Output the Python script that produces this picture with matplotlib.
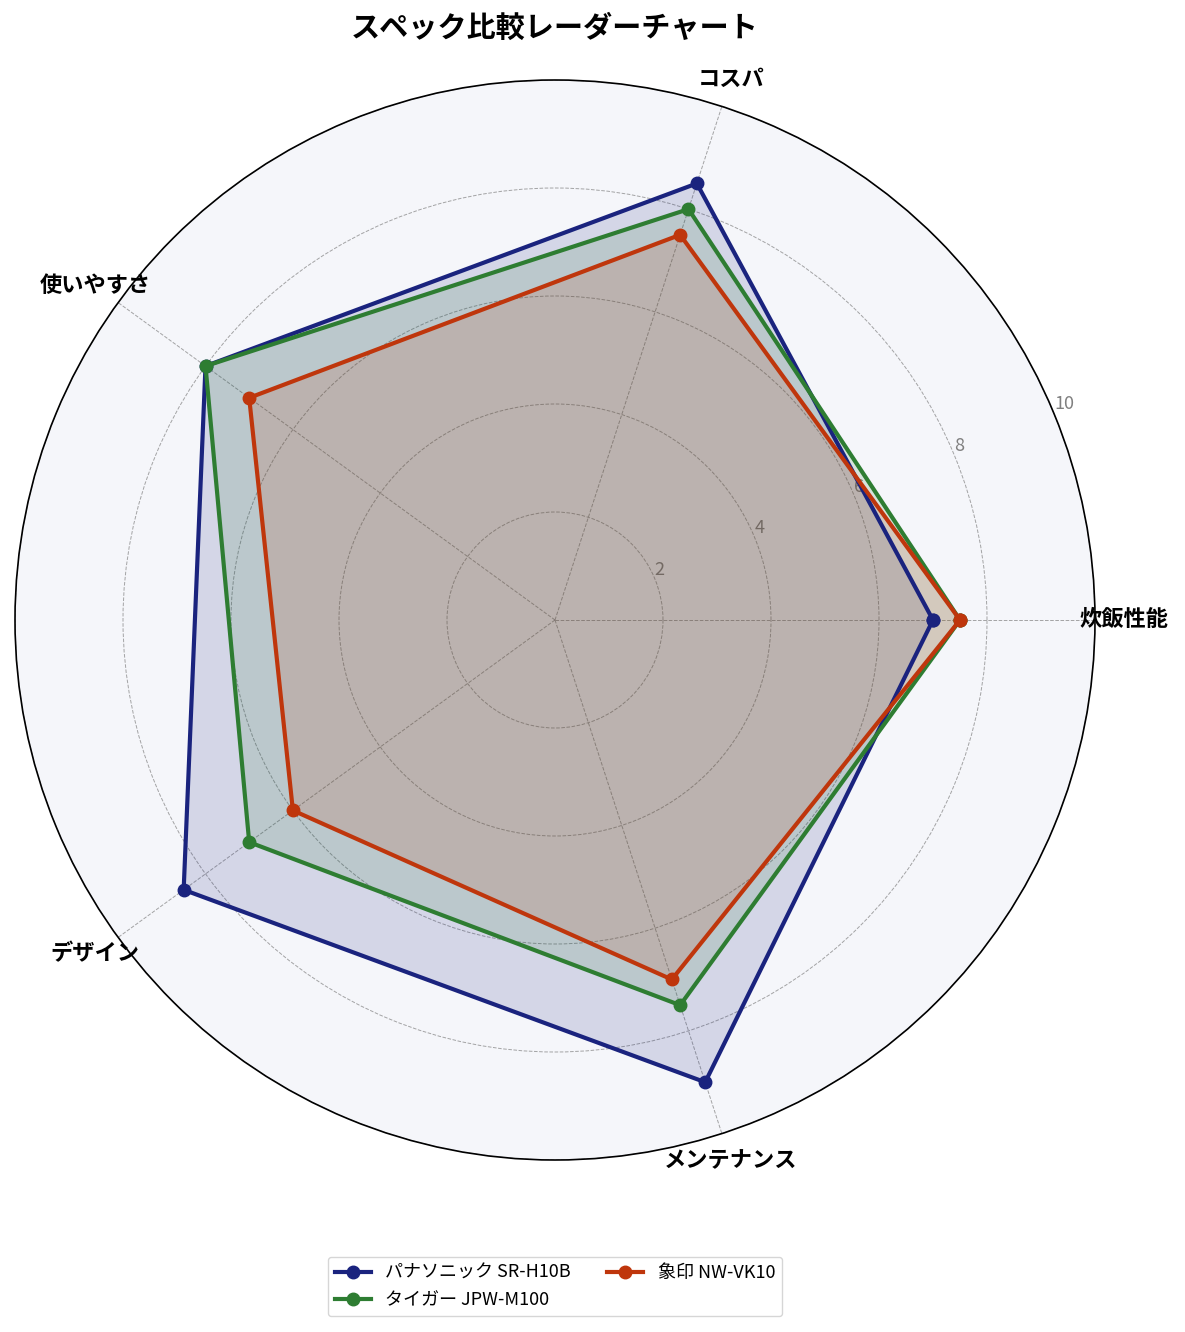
import numpy as np
import matplotlib
matplotlib.use('Agg')
import matplotlib.pyplot as plt

plt.rcParams['font.family'] = ['Noto Sans CJK JP', 'DejaVu Sans']

categories = ['炊飯性能', 'コスパ', '使いやすさ', 'デザイン', 'メンテナンス']
panasonic = [7.0, 8.5, 8.0, 8.5, 9.0]
tiger = [7.5, 8.0, 8.0, 7.0, 7.5]
zojirushi = [7.5, 7.5, 7.0, 6.0, 7.0]

series_names = ['パナソニック SR-H10B', 'タイガー JPW-M100', '象印 NW-VK10']
series_colors = ['#1a237e', '#2e7d32', '#bf360c']
series_values = [panasonic, tiger, zojirushi]
r_ticks = [2, 4, 6, 8, 10]

angles = np.linspace(0, 2 * np.pi, len(categories), endpoint=False)
angles_closed = np.append(angles, angles[0])

fig = plt.figure(figsize=(11.85, 13.32), dpi=100)
ax = fig.add_axes([15 / 1185, 172 / 1332, 1080 / 1185, 1080 / 1332], polar=True)
ax.set_facecolor('#f5f6fa')

for name, color, vals in zip(series_names, series_colors, series_values):
    v = np.append(vals, vals[0])
    ax.plot(angles_closed, v, color=color, linewidth=3, marker='o', markersize=9, label=name, zorder=3)
    ax.fill(angles_closed, v, color=color, alpha=0.15, zorder=2)

ax.set_ylim(0, 10)
ax.set_yticks(r_ticks)
ax.set_yticklabels([str(t) for t in r_ticks], color='gray', fontsize=13)
ax.set_rlabel_position(22.5)
ax.set_xticks(angles)
ax.set_xticklabels(categories, fontsize=16, fontweight='bold')
ax.tick_params(axis='x', pad=10)
ax.grid(True, color='gray', linestyle='--', linewidth=0.7, alpha=0.7)
ax.spines['polar'].set_color('black')
ax.spines['polar'].set_linewidth(1.2)

fig.text(555 / 1185, 1 - 28 / 1332, 'スペック比較レーダーチャート', fontsize=21, fontweight='bold',
         ha='center', va='center')
fig.legend(loc='lower center', ncol=2, bbox_to_anchor=(555 / 1185, 0.005), fontsize=13)

fig.savefig('out.png', dpi=100)
